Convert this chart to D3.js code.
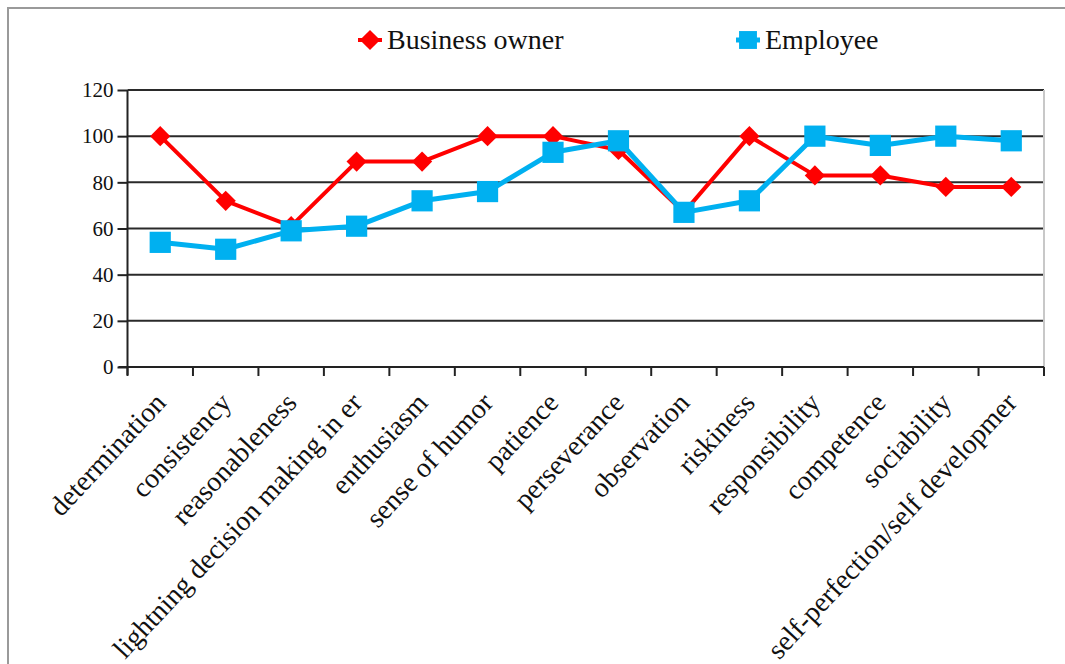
<!DOCTYPE html>
<html>
<head>
<meta charset="utf-8">
<script src="https://cdn.jsdelivr.net/npm/d3@7"></script>
<style>
  html, body { margin: 0; padding: 0; background: #fff; }
  svg { display: block; }
  text { font-family: "Liberation Serif", "Times New Roman", serif; fill: #111; }
</style>
</head>
<body>
<svg id="chart" width="1065" height="664"></svg>
<script>
const categories = ["determination", "consistency", "reasonableness", "lightning decision making in er",
  "enthusiasm", "sense of humor", "patience", "perseverance", "observation", "riskiness",
  "responsibility", "competence", "sociability", "self-perfection/self developmer"];
const businessOwner = [100, 72, 61, 89, 89, 100, 100, 94, 67, 100, 83, 83, 78, 78];
const employee = [54, 51, 59, 61, 72, 76, 93, 98, 67, 72, 100, 96, 100, 98];
const yTicks = [0, 20, 40, 60, 80, 100, 120];
const seriesNames = ["Business owner", "Employee"];
const seriesColors = ["#FF0000", "#00B0F0"];

const svg = d3.select("#chart");

// outer frame
svg.append("rect").attr("x", 8).attr("y", 8).attr("width", 1080).attr("height", 700)
  .attr("fill", "none").attr("stroke", "#9a9a9a").attr("stroke-width", 2);

const pLeft = 127.5, pRight = 1044, pTop = 90, pBottom = 367;
const x = d3.scaleBand().domain(categories).range([pLeft, pRight]).padding(0);
const y = d3.scaleLinear().domain([0, 120]).range([pBottom, pTop]);
const cx = d => x(d) + x.bandwidth() / 2;

// gridlines
svg.append("g").selectAll("line").data(yTicks.filter(t => t > 0)).join("line")
  .attr("x1", pLeft).attr("x2", pRight).attr("y1", d => y(d)).attr("y2", d => y(d))
  .attr("stroke", "#2a2a2a").attr("stroke-width", 2);
// right plot border
svg.append("line").attr("x1", pRight).attr("x2", pRight).attr("y1", pTop).attr("y2", pBottom)
  .attr("stroke", "#c8c8c8").attr("stroke-width", 2);

// y axis
const yAxis = svg.append("g").attr("transform", `translate(${pLeft},0)`)
  .call(d3.axisLeft(y).tickValues(yTicks).tickSize(10).tickPadding(4).tickFormat(d3.format("d")));
yAxis.select(".domain").attr("stroke", "#222").attr("stroke-width", 2).attr("d", `M0,${pTop}V${pBottom + 8}`);
yAxis.selectAll(".tick line").attr("stroke", "#222").attr("stroke-width", 2);
yAxis.selectAll(".tick text").attr("font-size", 21).attr("font-family", "Liberation Serif").attr("fill", "#111");

// x axis
const xAxis = svg.append("g").attr("transform", `translate(0,${pBottom})`)
  .call(d3.axisBottom(x).tickSize(0).tickFormat(""));
xAxis.select(".domain").attr("stroke", "#222").attr("stroke-width", 2).attr("d", `M${pLeft - 9},0H${pRight}`);
const bounds = categories.map(c => x(c)).concat([pRight]);
xAxis.append("g").selectAll("line").data(bounds).join("line")
  .attr("x1", d => d).attr("x2", d => d).attr("y1", 0).attr("y2", 9)
  .attr("stroke", "#222").attr("stroke-width", 2);

svg.append("g").selectAll("text").data(categories).join("text")
  .attr("transform", d => `translate(${cx(d) + 7},${pBottom + 37}) rotate(-47)`)
  .attr("text-anchor", "end")
  .attr("font-size", 28)
  .attr("fill", "#222")
  .text(d => d);

// series
const line = d3.line().x((d, i) => cx(categories[i])).y(d => y(d));
const diamond = d3.symbol(d3.symbolDiamond2, 260);
const square = d3.symbol(d3.symbolSquare, 450);

svg.append("path").datum(businessOwner).attr("d", line)
  .attr("fill", "none").attr("stroke", seriesColors[0]).attr("stroke-width", 4).attr("stroke-linejoin", "round");
svg.append("g").selectAll("path").data(businessOwner).join("path")
  .attr("transform", (d, i) => `translate(${cx(categories[i])},${y(d)})`)
  .attr("d", diamond).attr("fill", seriesColors[0]);

svg.append("path").datum(employee).attr("d", line)
  .attr("fill", "none").attr("stroke", seriesColors[1]).attr("stroke-width", 5).attr("stroke-linejoin", "round");
svg.append("g").selectAll("path").data(employee).join("path")
  .attr("transform", (d, i) => `translate(${cx(categories[i])},${y(d)})`)
  .attr("d", square).attr("fill", seriesColors[1]);

// legend
const legendItems = [
  { name: seriesNames[0], color: seriesColors[0], sym: diamond, lx: 370, w: 4 },
  { name: seriesNames[1], color: seriesColors[1], sym: d3.symbol(d3.symbolSquare, 320), lx: 748, w: 5 }
];
const lg = svg.append("g");
legendItems.forEach(it => {
  lg.append("line").attr("x1", it.lx - 12).attr("x2", it.lx + 12).attr("y1", 40).attr("y2", 40)
    .attr("stroke", it.color).attr("stroke-width", it.w);
  lg.append("path").attr("transform", `translate(${it.lx},40)`).attr("d", it.sym).attr("fill", it.color);
  lg.append("text").attr("x", it.lx + 17).attr("y", 49).attr("font-size", 28).text(it.name);
});
</script>
</body>
</html>
